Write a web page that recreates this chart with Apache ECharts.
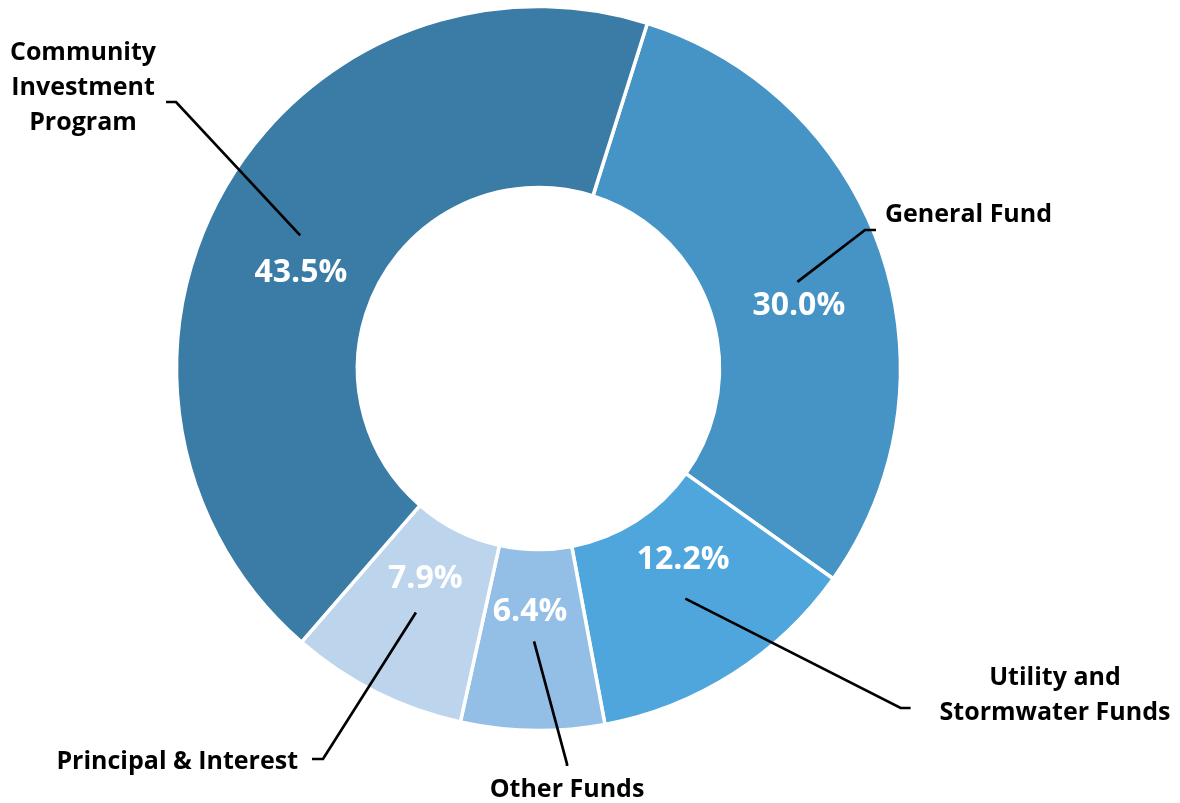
<!DOCTYPE html>
<html>
<head>
<meta charset="utf-8">
<script src="https://cdn.jsdelivr.net/npm/echarts@6/dist/echarts.min.js"></script>
<style>
  html, body { margin: 0; padding: 0; background: #fff; }
  #chart { width: 1180px; height: 803px; }
</style>
</head>
<body>
<div id="chart"></div>
<script>
// slices, clockwise from the top
const categories = ['General Fund', 'Utility and\nStormwater Funds', 'Other Funds', 'Principal & Interest', 'Community\nInvestment\nProgram'];
const shares = [30.0, 12.2, 6.4, 7.9, 43.5];
const colors = ['#4694C5', '#4FA6DC', '#93BFE6', '#BDD5EC', '#3A7CA5'];

// where the category labels sit (top of label box), and how the percent labels are nudged
const namePos = [[876, 197.5], [1055, 660], [567, 766], [312, 738.5], [83, 35.5]];
const nameAlign = ['left', 'center', 'center', 'right', 'center'];
const namePad = [[0, 0, 30, 9], [0, 29, 26, 29], [6, 0, 0, 0], [6, 14, 0, 0], [0, 10, 28, 10]];
const tick = [11, 10, 2, 11, 10];
const pctShift = [[0, 24], [-3, -40], [-4, -31], [10, -35], [2, 38]];

const font = "'Open Sans', sans-serif";
const center = [538.5, 368.5];

let chart = echarts.init(document.getElementById('chart'));

chart.setOption({
  animation: false,
  series: [
    {
      type: 'pie',
      z: 2,
      center: center,
      radius: [181, 362],
      startAngle: 72.5,
      silent: true,
      avoidLabelOverlap: false,
      data: categories.map((c, i) => ({
        name: c,
        value: shares[i],
        itemStyle: { color: colors[i] }
      })),
      itemStyle: { borderColor: '#fff', borderWidth: 3.5 },
      label: {
        position: 'inside',
        formatter: p => p.value.toFixed(1) + '%',
        color: '#fff',
        fontFamily: font,
        fontWeight: 'bold',
        fontSize: 32
      },
      labelLine: { show: false },
      labelLayout: p => {
        const r = p.labelRect;
        const s = pctShift[p.dataIndex];
        return {
          x: r.x + r.width / 2 + s[0],
          y: r.y + r.height / 2 + s[1],
          align: 'center',
          verticalAlign: 'middle'
        };
      }
    },
    {
      // invisible ring used only to anchor the leader lines
      type: 'pie',
      z: 4,
      center: center,
      radius: [0, 273],
      startAngle: 72.5,
      silent: true,
      avoidLabelOverlap: false,
      itemStyle: { color: 'rgba(0,0,0,0)', borderWidth: 0 },
      data: categories.map((c, i) => ({
        name: c,
        value: shares[i],
        label: { padding: namePad[i] },
        labelLine: { length2: tick[i] }
      })),
      label: {
        position: 'outside',
        formatter: '{b}',
        color: '#000',
        fontFamily: font,
        fontWeight: 'bold',
        fontSize: 25,
        lineHeight: 35,
        backgroundColor: 'rgba(0,0,0,0)'
      },
      labelLine: {
        show: true,
        length: 20,
        length2: 10,
        lineStyle: { color: '#000', width: 2.7 }
      },
      labelLayout: p => {
        const i = p.dataIndex;
        return {
          x: namePos[i][0],
          y: namePos[i][1],
          align: nameAlign[i],
          verticalAlign: 'top'
        };
      }
    }
  ]
});
</script>
</body>
</html>
